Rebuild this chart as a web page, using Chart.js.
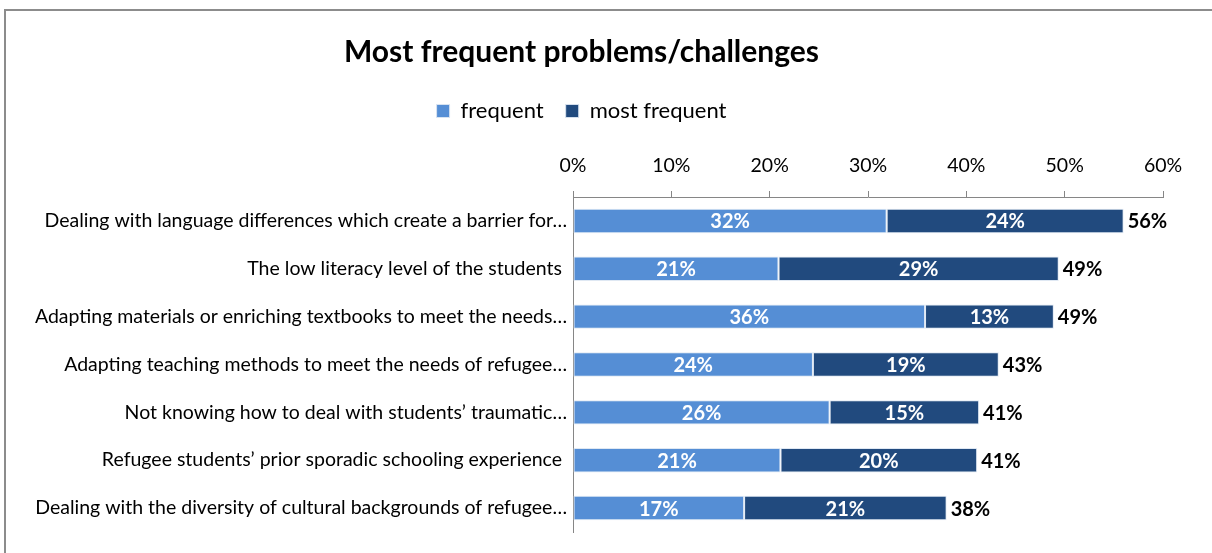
<!DOCTYPE html>
<html>
<head>
<meta charset="utf-8">
<script src="https://cdn.jsdelivr.net/npm/chart.js@4"></script>
<style>
  html, body { margin: 0; padding: 0; background: #fff; }
  #wrap { position: relative; width: 1212px; height: 553px; }
  #frame { position: absolute; left: 4px; top: 9px; right: -10px; bottom: -10px;
           border-left: 2px solid #8c8c8c; border-top: 2px solid #8c8c8c; pointer-events: none; }
</style>
</head>
<body>
<div id="wrap">
  <canvas id="chart" width="1212" height="553"></canvas>
  <div id="frame"></div>
</div>
<script>
// categories (trailing spaces kept as in the source chart)
const categories = [
  'Dealing with language differences which create a barrier for…',
  'The low literacy level of the students ',
  'Adapting materials or enriching textbooks to meet the needs…',
  'Adapting teaching methods to meet the needs of refugee…',
  'Not knowing how to deal with students’ traumatic…',
  'Refugee students’ prior sporadic schooling experience ',
  'Dealing with the diversity of cultural backgrounds of refugee…'
];
const frequent = [31.9, 20.9, 35.8, 24.4, 26.1, 21.1, 17.4];
const mostFrequent = [24.1, 28.5, 13.1, 18.9, 15.2, 20.0, 20.6];
const xTicks = [0, 10, 20, 30, 40, 50, 60];

const FONT = 'Lato, "Open Sans", sans-serif';
const LIGHT = '#558ED5';
const DARK = '#214A7E';

function pct(v) { return Math.round(v) + '%'; }

// segment labels (white, centred) and totals (black, after bar end)
const barLabels = {
  id: 'barLabels',
  afterDatasetsDraw(chart) {
    const ctx = chart.ctx;
    ctx.save();
    ctx.font = 'bold 20px ' + FONT;
    ctx.textBaseline = 'middle';
    chart.data.datasets.forEach((ds, i) => {
      const meta = chart.getDatasetMeta(i);
      meta.data.forEach((bar, j) => {
        ctx.fillStyle = '#fff';
        ctx.textAlign = 'center';
        ctx.fillText(pct(ds.data[j]), (bar.x + bar.base) / 2, bar.y + 1);
      });
    });
    const last = chart.getDatasetMeta(chart.data.datasets.length - 1);
    last.data.forEach((bar, j) => {
      ctx.fillStyle = '#000';
      ctx.textAlign = 'left';
      ctx.fillText(pct(frequent[j] + mostFrequent[j]), bar.x + 4, bar.y + 1);
    });
    ctx.restore();
  }
};

new Chart(document.getElementById('chart'), {
  type: 'bar',
  data: {
    labels: categories,
    datasets: [
      { label: 'frequent', data: frequent, backgroundColor: LIGHT, borderColor: 'rgba(220,230,242,0.9)', borderWidth: 1, borderSkipped: false },
      { label: 'most frequent', data: mostFrequent, backgroundColor: DARK, borderColor: 'rgba(220,230,242,0.9)', borderWidth: 1, borderSkipped: false }
    ]
  },
  options: {
    indexAxis: 'y',
    responsive: false,
    animation: false,
    layout: { padding: { left: 0, right: 49, top: 0, bottom: 21 } },
    datasets: { bar: { barPercentage: 0.51, categoryPercentage: 1 } },
    plugins: {
      tooltip: { enabled: false },
      title: {
        display: true,
        text: 'Most frequent problems/challenges',
        color: '#000',
        font: { family: FONT, size: 30, weight: 'bold', lineHeight: 1.2 },
        padding: { top: 34, bottom: 8 }
      },
      legend: {
        position: 'top',
        labels: {
          color: '#000',
          font: { family: FONT, size: 22 },
          boxWidth: 13,
          boxHeight: 13,
          padding: 22
        }
      }
    },
    scales: {
      x: {
        position: 'top',
        stacked: true,
        min: 0,
        max: 60,
        afterBuildTicks(scale) { scale.ticks = xTicks.map(v => ({ value: v })); },
        afterFit(scale) { scale.height = 65; },
        ticks: { color: '#000', font: { family: FONT, size: 19.5 }, padding: 14, callback: v => v + '%' },
        grid: { drawOnChartArea: false, drawTicks: true, tickLength: 6, color: '#868686' },
        border: { display: true, color: '#868686', width: 1 }
      },
      y: {
        stacked: true,
        afterFit(scale) { scale.width = 573; },
        ticks: { color: '#000', font: { family: FONT, size: 19.5 }, padding: 6 },
        grid: { drawOnChartArea: false, drawTicks: false, color: '#868686' },
        border: { display: true, color: '#868686', width: 1 }
      }
    }
  },
  plugins: [barLabels]
});
</script>
</body>
</html>
